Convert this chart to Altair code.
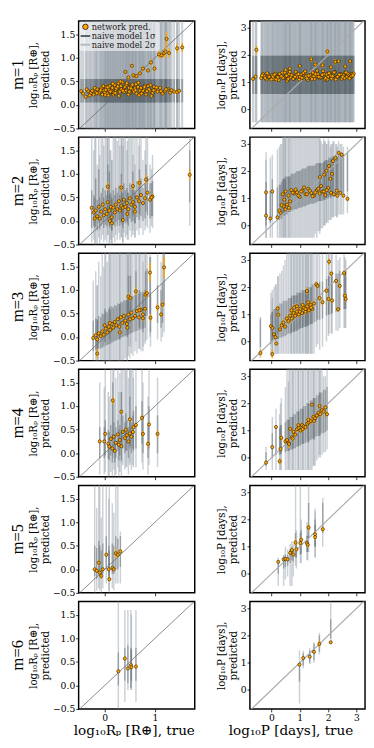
import altair as alt
import pandas as pd

# ---------------- data ----------------
# m = 1, planet radius
m1_r_true = [-0.47,-0.38,-0.33,-0.28,-0.25,-0.22,-0.18,-0.15,-0.12,-0.10,
             -0.07,-0.05,-0.02,0.00,0.03,0.05,0.08,0.10,0.12,0.15,
             0.17,0.20,0.22,0.25,0.27,0.30,0.32,0.35,0.37,0.40,
             0.42,0.45,0.48,0.50,0.53,0.56,0.60,0.63,0.66,0.70,
             0.74,0.78,0.82,0.86,0.90,0.95,1.00,1.05,1.10,1.15,
             1.20,1.25,1.30,1.38,1.44,
             0.02,0.07,0.13,0.18,0.23,0.28,0.33,0.38,0.43,0.47,
             0.52,0.58,0.62,0.68,0.72,0.76,0.80,0.88,0.93,0.98,
             -0.43,-0.36,-0.30,-0.20,-0.16,-0.08,-0.03,0.01,0.06,0.11,
             0.16,0.21,0.26,0.31,0.36,0.44,0.49,0.55,0.61,0.67,
             0.73,0.79,0.84,0.91,0.97,1.03,1.12,1.22,1.33,1.48,
             0.41,0.54,0.57,0.70,0.76,0.86,0.92,0.99,1.08,1.13,
             1.18,1.21,1.23,1.28,1.44,0.47,0.63,1.54]
m1_r_pred = [0.29,0.17,0.29,0.25,0.30,0.22,0.27,0.33,0.24,0.28,
             0.35,0.22,0.30,0.26,0.38,0.24,0.32,0.40,0.27,0.36,
             0.22,0.42,0.30,0.34,0.45,0.28,0.40,0.48,0.33,0.38,
             0.30,0.44,0.36,0.26,0.40,0.32,0.35,0.24,0.38,0.30,
             0.27,0.34,0.22,0.40,0.30,0.25,0.33,0.28,0.36,0.24,
             0.30,0.34,0.26,0.28,0.27,
             0.32,0.20,0.30,0.26,0.35,0.19,0.33,0.27,0.42,0.22,
             0.35,0.28,0.44,0.20,0.36,0.30,0.41,0.33,0.19,0.38,
             0.24,0.33,0.20,0.36,0.25,0.31,0.40,0.21,0.37,0.28,
             0.45,0.25,0.39,0.50,0.30,0.46,0.28,0.43,0.31,0.47,
             0.24,0.38,0.29,0.42,0.31,0.37,0.29,0.33,0.31,0.30,
             0.70,0.83,0.63,0.67,0.77,0.73,0.90,0.77,1.07,1.05,
             1.10,1.13,1.40,1.10,1.20,0.58,0.61,1.22]
m1_r_err = [0.04,0.05,0.04,0.04,0.05,0.04,0.04,0.05,0.04,0.04,
            0.05,0.04,0.04,0.04,0.05,0.04,0.04,0.05,0.04,0.04,
            0.04,0.05,0.04,0.04,0.05,0.04,0.05,0.05,0.04,0.04,
            0.04,0.05,0.04,0.04,0.05,0.04,0.04,0.04,0.05,0.04,
            0.04,0.05,0.04,0.05,0.04,0.04,0.05,0.04,0.05,0.04,
            0.05,0.05,0.04,0.05,0.05,
            0.04,0.04,0.04,0.04,0.04,0.04,0.04,0.04,0.04,0.04,
            0.04,0.04,0.04,0.04,0.04,0.04,0.04,0.04,0.04,0.04,
            0.04,0.04,0.04,0.04,0.04,0.04,0.04,0.04,0.04,0.04,
            0.04,0.04,0.04,0.04,0.04,0.04,0.04,0.04,0.04,0.04,
            0.04,0.04,0.04,0.04,0.04,0.04,0.04,0.04,0.04,0.04,
            0.05,0.06,0.05,0.05,0.06,0.05,0.07,0.06,0.08,0.07,
            0.08,0.12,0.15,0.10,0.10,0.05,0.05,0.10]
m1_r_naive = [0.05, 0.55, -0.60, 2.00]   # 1σ lo, 1σ hi, 2σ lo, 2σ hi (same for all)

# m = 1, orbital period
m1_p_true = [-0.65,-0.56,-0.36,-0.30,-0.25,-0.18,-0.12,-0.05,0.02,0.08,
             0.14,0.20,0.26,0.32,0.38,0.44,0.50,0.56,0.62,0.68,
             0.74,0.80,0.86,0.92,0.98,1.04,1.10,1.16,1.22,1.28,
             1.34,1.40,1.46,1.52,1.58,1.64,1.70,1.76,1.82,1.88,
             1.94,2.00,2.06,2.12,2.18,2.24,2.30,2.36,2.42,2.48,
             2.54,2.60,2.66,2.72,2.78,2.84,2.90,
             0.05,0.17,0.29,0.41,0.53,0.65,0.77,0.89,1.01,1.13,
             1.25,1.37,1.49,1.61,1.73,1.85,1.97,2.09,2.21,2.33,
             2.45,2.57,2.69,2.81,
             -0.33,-0.22,-0.15,-0.08,0.00,0.11,0.23,0.35,0.47,0.59,
             0.71,0.83,0.95,1.07,1.19,1.31,1.43,1.55,1.67,1.79,
             1.91,2.03,2.15,2.27,2.39,2.51,2.63,2.75,2.87,0.50,
             -0.53,1.40,1.97,2.37,2.77,1.00,1.55,2.10,2.25,0.65,2.60,1.80]
m1_p_pred = [1.12,1.21,1.15,1.30,1.22,1.10,1.28,1.18,1.25,1.12,
             1.32,1.20,1.08,1.26,1.35,1.15,1.22,1.05,1.30,1.18,
             1.25,1.12,1.38,1.20,1.10,1.28,1.16,1.33,1.22,1.08,
             1.26,1.18,1.35,1.12,1.24,1.30,1.15,1.22,1.40,1.10,
             1.28,1.20,1.33,1.14,1.25,1.38,1.18,1.22,1.30,1.12,
             1.26,1.35,1.20,1.28,1.16,1.30,1.32,
             1.20,1.10,1.30,1.16,1.24,1.38,1.12,1.27,1.20,1.34,
             1.14,1.26,1.22,1.42,1.18,1.30,1.10,1.24,1.36,1.20,
             1.28,1.15,1.32,1.22,
             1.25,1.15,1.33,1.20,1.10,1.28,1.18,1.22,1.36,1.12,
             1.26,1.20,1.30,1.16,1.40,1.24,1.12,1.30,1.20,1.27,
             1.15,1.33,1.22,1.10,1.28,1.20,1.36,1.14,1.25,1.45,
             2.19,1.84,2.13,1.77,1.77,1.60,1.65,1.55,1.75,1.50,1.58,1.62]
m1_p_err = [0.06,0.07,0.06,0.08,0.06,0.07,0.06,0.08,0.06,0.07,
            0.08,0.06,0.07,0.06,0.08,0.06,0.07,0.06,0.08,0.06,
            0.07,0.06,0.08,0.06,0.07,0.06,0.08,0.06,0.07,0.06,
            0.08,0.06,0.07,0.06,0.08,0.06,0.07,0.06,0.08,0.06,
            0.07,0.06,0.08,0.06,0.07,0.06,0.08,0.06,0.07,0.06,
            0.08,0.06,0.07,0.06,0.08,0.06,0.07,
            0.06,0.07,0.06,0.08,0.06,0.07,0.06,0.08,0.06,0.07,
            0.06,0.08,0.06,0.07,0.06,0.08,0.06,0.07,0.06,0.08,
            0.06,0.07,0.06,0.08,
            0.07,0.07,0.07,0.07,0.07,0.07,0.07,0.07,0.07,0.07,
            0.07,0.07,0.07,0.07,0.07,0.07,0.07,0.07,0.07,0.07,
            0.07,0.07,0.07,0.07,0.07,0.07,0.07,0.07,0.07,0.07,
            0.15,0.10,0.10,0.08,0.08,0.08,0.10,0.08,0.10,0.08,0.08,0.10]
m1_p_naive = [0.57, 1.97, -0.47, 3.40]

# m = 2, radius
m2_r_true = [-0.26,-0.22,-0.18,-0.15,-0.12,-0.10,-0.07,-0.04,-0.02,0.01,
             0.04,0.06,0.09,0.12,0.14,0.17,0.20,0.22,0.25,0.28,
             0.30,0.33,0.36,0.38,0.41,0.44,0.47,0.50,0.53,0.56,
             0.60,0.64,0.68,0.72,0.76,0.80,0.85,0.90,0.95,
             0.06,0.33,0.56,0.69,0.82,0.93,0.36,0.14,0.60,1.69,-0.20,0.10,0.45]
m2_r_pred = [0.28,0.18,0.22,0.10,0.30,0.05,0.20,0.35,0.12,0.25,
             0.15,0.40,0.22,0.30,0.08,0.28,0.18,0.35,0.25,0.42,
             0.22,0.32,0.28,0.45,0.30,0.38,0.25,0.48,0.35,0.40,
             0.30,0.50,0.42,0.55,0.38,0.48,0.60,0.45,0.52,
             0.73,0.71,0.74,0.81,0.88,0.50,0.02,-0.05,0.20,0.98,0.05,0.00,0.15]
m2_r_err = [0.04,0.05,0.04,0.05,0.04,0.05,0.04,0.05,0.04,0.05,
            0.04,0.05,0.04,0.05,0.04,0.05,0.04,0.05,0.04,0.05,
            0.04,0.05,0.04,0.05,0.04,0.05,0.04,0.05,0.04,0.05,
            0.04,0.05,0.04,0.05,0.04,0.05,0.06,0.05,0.06,
            0.09,0.08,0.08,0.08,0.10,0.06,0.05,0.05,0.06,0.12,0.05,0.05,0.05]
m2_r_n1lo = [-0.15,-0.10,-0.12,-0.20,-0.05,-0.18,-0.10,-0.02,-0.15,-0.08,
             -0.12,0.00,-0.10,-0.05,-0.20,-0.08,-0.12,-0.02,-0.10,0.02,
             -0.10,-0.05,-0.08,0.05,-0.05,0.00,-0.10,0.05,-0.02,0.00,
             -0.05,0.08,0.02,0.10,0.00,0.05,0.12,0.05,0.10,
             0.05,0.00,0.10,0.15,0.20,0.10,-0.15,-0.20,-0.05,0.40,-0.15,-0.15,-0.05]
m2_r_n1hi = [0.65,0.55,0.90,0.45,1.10,0.50,0.60,0.70,0.50,0.65,
             0.55,0.75,1.05,0.60,0.50,0.65,0.55,0.70,0.60,0.75,
             0.55,0.65,0.60,0.80,0.65,0.70,0.60,0.80,0.70,0.75,
             0.65,0.85,0.75,0.90,0.70,0.80,0.95,0.80,0.85,
             1.20,1.00,1.05,1.10,1.20,0.80,0.50,0.45,0.60,1.50,0.50,0.55,0.60]
m2_r_n2lo = [-0.45,-0.40,-0.50,-0.50,-0.35,-0.50,-0.40,-0.30,-0.45,-0.40,
             -0.45,-0.30,-0.50,-0.40,-0.50,-0.35,-0.45,-0.30,-0.40,-0.25,
             -0.40,-0.35,-0.45,-0.25,-0.35,-0.30,-0.40,-0.20,-0.35,-0.30,
             -0.35,-0.20,-0.30,-0.15,-0.30,-0.20,-0.15,-0.25,-0.15,
             -0.30,-0.35,-0.20,-0.15,-0.10,-0.10,-0.50,-0.50,-0.35,-0.10,-0.50,-0.50,-0.40]
m2_r_n2hi = [1.80,1.50,1.80,1.20,1.80,1.40,1.80,1.80,1.60,1.80,
             1.80,1.80,1.80,1.50,1.30,1.80,1.80,1.80,1.70,1.80,
             1.60,1.80,1.80,1.80,1.80,1.50,1.80,1.80,1.80,1.40,
             1.80,1.80,1.60,1.80,1.30,1.50,1.80,1.20,1.40,
             1.80,1.80,1.80,1.80,1.80,1.10,1.60,1.30,1.20,2.00,1.80,1.50,1.70]

# m = 2, period
m2_p_true = [-0.19,0.03,-0.19,-0.04,0.21,0.32,0.43,0.55,0.66,0.49,
             0.40,0.50,0.60,0.70,0.80,0.90,1.00,1.10,1.20,1.30,
             1.40,1.50,1.60,1.70,1.80,1.90,2.00,2.10,2.20,2.30,
             0.45,0.62,0.75,0.85,0.95,1.05,1.15,1.25,1.35,1.45,
             1.55,1.65,1.75,1.85,1.95,
             1.71,1.86,1.94,2.03,2.08,2.14,2.17,2.26,2.37,2.48,
             2.32,2.43,2.54,2.68,0.28,0.36]
m2_p_pred = [1.22,1.25,0.36,0.26,0.30,0.47,0.71,0.77,0.89,0.59,
             1.15,1.25,1.10,1.30,1.18,1.22,1.05,1.28,1.15,1.35,
             1.20,1.10,1.30,1.18,1.25,1.12,1.38,1.20,1.15,1.28,
             0.95,0.65,1.20,1.32,1.10,1.25,1.40,1.15,1.28,1.08,
             1.22,1.35,1.45,1.25,1.30,
             1.78,1.87,2.01,2.19,1.72,1.90,2.37,2.49,2.67,2.60,
             1.10,1.20,1.10,0.98,0.55,0.75]
m2_p_err = [0.06,0.06,0.06,0.06,0.07,0.08,0.08,0.08,0.10,0.08,
            0.07,0.08,0.07,0.08,0.07,0.08,0.07,0.08,0.07,0.08,
            0.07,0.08,0.07,0.08,0.07,0.08,0.07,0.08,0.07,0.08,
            0.10,0.12,0.07,0.08,0.07,0.08,0.07,0.08,0.07,0.08,
            0.07,0.08,0.07,0.08,0.07,
            0.08,0.08,0.08,0.10,0.08,0.08,0.08,0.08,0.08,0.08,
            0.08,0.08,0.08,0.10,0.08,0.08]
m2_p_n1lo = [0.20,0.30,0.00,0.10,0.20,0.30,0.40,0.40,0.50,0.40,
             0.45,0.50,0.50,0.55,0.60,0.60,0.65,0.70,0.70,0.75,
             0.80,0.80,0.85,0.90,0.90,0.95,1.00,1.00,1.05,1.10,
             0.35,0.50,0.55,0.60,0.65,0.65,0.70,0.75,0.80,0.80,
             0.85,0.90,0.90,0.95,1.00,
             0.90,0.95,1.00,1.05,1.05,1.10,1.10,1.15,1.20,1.20,
             1.10,1.15,1.20,1.25,0.20,0.25]
m2_p_n1hi = [1.60,1.70,1.20,1.30,1.40,1.50,1.70,1.80,1.80,1.70,
             1.70,1.80,1.80,1.90,1.90,2.00,2.00,2.10,2.10,2.20,
             2.20,2.20,2.30,2.30,2.30,2.40,2.40,2.50,2.50,2.50,
             1.75,1.80,1.90,1.95,2.00,2.05,2.10,2.15,2.20,2.20,
             2.25,2.30,2.30,2.35,2.40,
             2.30,2.35,2.40,2.50,2.45,2.50,2.55,2.60,2.65,2.70,
             2.50,2.60,2.60,2.70,1.50,1.60]
m2_p_n2lo = [-0.45,-0.45,-0.45,-0.45,-0.45,-0.45,-0.45,-0.45,-0.45,-0.45,
             -0.45,-0.45,-0.45,-0.45,-0.45,-0.45,-0.45,-0.45,-0.45,-0.45,
             -0.45,-0.45,-0.45,-0.30,-0.10,0.00,0.10,0.20,0.30,0.30,
             -0.45,-0.45,-0.45,-0.45,-0.45,-0.45,-0.45,-0.45,-0.45,-0.45,
             -0.30,-0.20,-0.10,0.00,0.10,
             -0.20,0.00,0.10,0.20,0.20,0.30,0.30,0.35,0.40,0.40,
             0.30,0.40,0.40,0.45,-0.45,-0.45]
m2_p_n2hi = [2.70,2.60,2.40,2.50,2.80,3.00,3.40,3.40,3.40,3.40,
             3.40,3.40,3.40,3.40,3.40,3.40,3.40,3.40,3.40,3.40,
             3.40,3.40,3.40,3.40,3.00,3.10,3.20,3.00,3.10,3.00,
             3.40,3.40,3.40,3.40,3.40,3.40,3.40,3.40,3.40,3.40,
             3.40,3.40,3.10,3.20,3.00,
             3.20,3.10,3.00,3.10,2.90,3.00,3.10,3.00,3.10,3.00,
             2.90,3.00,2.90,2.90,2.90,3.00]

# m = 3, radius
m3_r_true = [-0.23,-0.18,-0.15,-0.12,-0.08,-0.05,-0.02,0.02,0.05,0.08,
             0.11,0.14,0.17,0.20,0.23,0.26,0.29,0.32,0.35,0.38,
             0.41,0.44,0.47,0.50,0.53,0.56,0.60,0.64,0.68,0.72,
             0.76,0.80,
             0.47,0.51,0.62,0.81,0.84,0.90,1.18,0.91,1.05,1.12,1.15,0.76,0.69,-0.15,0.00,0.10,0.30,0.45]
m3_r_pred = [-0.02,0.04,-0.05,0.08,0.02,0.12,0.05,0.18,0.10,0.22,
             0.15,0.28,0.20,0.32,0.25,0.38,0.22,0.42,0.30,0.45,
             0.35,0.28,0.48,0.38,0.52,0.40,0.45,0.55,0.42,0.58,
             0.48,0.60,
             0.86,0.83,0.97,0.90,0.93,1.37,1.48,0.41,0.63,0.48,0.69,0.40,0.57,-0.35,0.25,0.30,0.10,0.20]
m3_r_err = [0.04,0.05,0.04,0.05,0.04,0.05,0.04,0.05,0.04,0.05,
            0.04,0.05,0.04,0.05,0.04,0.05,0.04,0.05,0.04,0.05,
            0.04,0.05,0.04,0.05,0.04,0.05,0.04,0.05,0.04,0.05,
            0.04,0.05,
            0.07,0.06,0.08,0.06,0.07,0.20,0.22,0.08,0.08,0.06,0.08,0.06,0.07,0.10,0.04,0.05,0.05,0.05]
m3_r_n1lo = [-0.30,-0.28,-0.27,-0.25,-0.24,-0.22,-0.20,-0.18,-0.17,-0.15,
             -0.14,-0.12,-0.10,-0.08,-0.07,-0.05,-0.04,-0.02,0.00,0.01,
             0.02,0.04,0.05,0.07,0.08,0.10,0.12,0.13,0.15,0.16,
             0.18,0.20,
             0.30,0.30,0.40,0.45,0.45,0.50,0.70,0.10,0.30,0.20,0.30,0.10,0.20,-0.30,-0.10,-0.05,-0.05,0.00]
m3_r_n1hi = [0.35,0.40,0.38,0.45,0.42,0.50,0.48,0.55,0.52,0.60,
             0.58,0.65,0.62,0.68,0.66,0.72,0.70,0.75,0.74,0.78,
             0.77,0.80,0.82,0.84,0.85,0.88,0.90,0.92,0.93,0.95,
             0.97,1.00,
             1.30,1.30,1.40,1.40,1.45,1.70,1.80,0.90,1.10,1.00,1.15,0.90,1.00,0.35,0.60,0.65,0.70,0.80]
m3_r_n2lo = [-0.50,-0.50,-0.50,-0.50,-0.50,-0.50,-0.50,-0.50,-0.50,-0.50,
             -0.50,-0.50,-0.50,-0.50,-0.50,-0.50,-0.50,-0.50,-0.50,-0.50,
             -0.45,-0.50,-0.40,-0.45,-0.35,-0.40,-0.30,-0.35,-0.25,-0.30,
             -0.20,-0.15,
             -0.20,-0.20,-0.10,-0.10,-0.05,0.00,0.10,-0.20,-0.05,-0.10,0.00,-0.30,-0.25,-0.50,-0.50,-0.50,-0.50,-0.50]
m3_r_n2hi = [1.20,1.40,1.10,1.60,1.30,1.80,1.50,1.80,1.60,1.80,
             1.80,1.80,1.80,1.80,1.80,1.80,1.80,1.80,1.80,1.80,
             1.80,1.80,1.80,1.80,1.80,1.80,1.80,1.80,1.80,1.80,
             1.80,1.80,
             1.80,1.80,1.80,1.80,1.80,1.80,1.80,1.70,1.80,1.60,1.80,1.60,1.80,1.10,1.80,1.80,1.80,1.80]

# m = 3, period
m3_p_true = [-0.39,0.03,-0.02,0.03,0.09,0.14,0.17,0.22,0.24,0.30,
             0.36,0.42,0.48,0.54,0.60,0.66,0.72,0.78,0.84,0.90,
             0.96,1.02,1.08,1.14,1.20,1.26,1.32,1.38,1.44,1.50,
             0.70,0.80,0.90,1.00,1.10,1.20,1.30,1.40,
             1.58,1.63,2.03,2.11,1.94,2.01,2.14,2.28,2.41,2.56,2.35,2.59,2.62,1.25,1.70,1.80]
m3_p_pred = [-0.42,-0.46,0.57,0.50,0.27,0.16,-0.07,1.22,0.99,0.45,
             0.60,0.70,0.55,0.85,0.75,0.95,0.85,1.05,0.95,1.10,
             1.00,1.20,1.05,1.25,1.10,1.30,1.15,1.35,1.20,1.40,
             1.15,1.25,1.30,1.10,1.35,1.20,1.45,1.25,
             2.11,2.05,2.94,2.50,1.87,1.57,1.51,2.23,2.05,2.52,1.19,1.69,1.57,1.86,1.60,1.45]
m3_p_err = [0.12,0.15,0.08,0.08,0.08,0.08,0.08,0.10,0.10,0.08,
            0.10,0.12,0.08,0.12,0.10,0.12,0.10,0.12,0.10,0.12,
            0.10,0.12,0.10,0.12,0.10,0.12,0.10,0.12,0.10,0.12,
            0.10,0.12,0.10,0.12,0.10,0.12,0.10,0.12,
            0.10,0.10,0.12,0.10,0.10,0.10,0.10,0.10,0.10,0.10,0.10,0.10,0.10,0.12,0.10,0.10]
m3_p_n1lo = [-0.20,0.00,-0.10,0.00,0.05,0.05,0.10,0.10,0.10,0.15,
             0.15,0.20,0.20,0.25,0.30,0.30,0.35,0.35,0.40,0.40,
             0.45,0.50,0.50,0.55,0.55,0.60,0.60,0.65,0.65,0.70,
             0.30,0.35,0.40,0.45,0.50,0.55,0.60,0.65,
             0.75,0.80,1.00,1.00,0.95,1.00,1.05,1.10,1.15,1.20,1.10,1.20,1.20,0.55,0.80,0.85]
m3_p_n1hi = [0.90,1.10,1.00,1.10,1.20,1.20,1.20,1.30,1.30,1.40,
             1.40,1.50,1.50,1.50,1.60,1.60,1.70,1.70,1.70,1.80,
             1.80,1.80,1.90,1.90,1.90,2.00,2.00,2.00,2.10,2.10,
             1.60,1.70,1.70,1.80,1.80,1.90,1.90,2.00,
             2.10,2.10,2.40,2.40,2.30,2.40,2.40,2.50,2.60,2.60,2.50,2.60,2.60,1.90,2.20,2.20]
m3_p_n2lo = [-0.60,-0.60,-0.50,-0.50,-0.45,-0.45,-0.45,-0.45,-0.45,-0.45,
             -0.45,-0.45,-0.45,-0.45,-0.45,-0.45,-0.45,-0.45,-0.45,-0.45,
             -0.45,-0.45,-0.45,-0.45,-0.45,-0.45,-0.45,-0.45,-0.45,-0.45,
             -0.45,-0.45,-0.45,-0.45,-0.45,-0.45,-0.45,-0.45,
             -0.20,-0.10,0.30,0.30,0.00,0.20,0.30,0.40,0.50,0.50,0.40,0.50,0.50,-0.45,-0.30,-0.20]
m3_p_n2hi = [0.80,1.60,1.80,1.90,2.00,2.10,2.10,2.40,2.40,2.50,
             2.60,2.80,3.00,3.40,3.40,3.40,3.40,3.40,3.40,3.40,
             3.40,3.40,3.40,3.40,3.40,3.40,3.40,3.40,3.40,3.40,
             3.40,3.40,3.40,3.40,3.40,3.40,3.40,3.40,
             3.40,3.40,3.40,3.40,3.40,3.40,3.20,3.20,3.10,3.20,3.00,3.10,3.00,3.40,3.40,3.40]

# m = 4, radius
m4_r_true = [-0.10,0.01,-0.01,0.07,0.09,0.12,0.15,0.18,0.22,0.26,
             0.30,0.33,0.36,0.40,0.44,0.47,0.50,0.53,0.56,
             0.16,0.33,0.50,0.57,0.62,0.74,0.76,0.86,0.88,1.05,0.20,0.28,0.42]
m4_r_pred = [0.25,0.41,0.25,0.20,0.14,0.30,0.10,0.35,0.22,0.40,
             0.28,0.15,0.45,0.32,0.38,0.25,0.42,0.35,0.45,
             1.12,0.88,0.72,0.55,0.60,0.75,0.41,0.20,0.61,0.41,0.05,0.18,0.50]
m4_r_err = [0.04,0.04,0.04,0.04,0.04,0.04,0.04,0.04,0.04,0.04,
            0.04,0.04,0.04,0.04,0.04,0.04,0.04,0.04,0.04,
            0.08,0.05,0.05,0.05,0.05,0.06,0.06,0.07,0.05,0.08,0.04,0.04,0.05]
m4_r_n1lo = [-0.10,-0.05,-0.10,-0.12,-0.15,-0.05,-0.20,0.00,-0.10,0.05,
             -0.05,-0.15,0.10,0.00,0.05,-0.10,0.10,0.00,0.10,
             0.30,0.20,0.15,0.05,0.10,0.20,0.00,-0.10,0.10,0.00,-0.20,-0.15,0.05]
m4_r_n1hi = [0.55,0.70,0.55,0.50,0.45,0.60,0.40,0.65,0.55,0.70,
             0.60,0.45,0.80,0.65,0.70,0.55,0.75,0.65,0.80,
             1.50,1.30,1.20,0.90,1.00,1.10,0.80,0.60,1.00,0.80,0.40,0.50,0.85]
m4_r_n2lo = [-0.45,-0.40,-0.45,-0.50,-0.50,-0.40,-0.50,-0.35,-0.45,-0.30,
             -0.40,-0.50,-0.25,-0.35,-0.30,-0.45,-0.25,-0.35,-0.25,
             -0.10,-0.20,-0.20,-0.30,-0.30,-0.20,-0.35,-0.45,-0.25,-0.30,-0.50,-0.50,-0.30]
m4_r_n2hi = [1.50,1.80,1.40,1.30,1.20,1.80,1.10,1.80,1.60,1.80,
             1.70,1.30,1.80,1.80,1.80,1.60,1.80,1.80,1.80,
             1.80,1.80,1.80,1.60,1.80,1.80,1.50,1.20,1.80,1.60,1.10,1.30,1.80]

# m = 4, period
m4_p_true = [-0.19,0.03,0.16,0.29,0.32,0.35,0.49,0.55,0.60,0.66,
             0.72,0.78,0.84,0.90,0.96,1.02,1.08,1.14,1.20,1.26,
             1.32,1.38,1.43,1.48,1.54,1.60,1.66,1.72,1.78,1.84,
             1.90,1.96,0.62,0.75,0.95,1.10,1.30,1.50,1.70]
m4_p_pred = [-0.18,0.39,1.13,-0.13,0.32,0.73,0.60,0.65,0.55,1.06,
             0.75,0.95,0.85,1.05,1.10,1.00,1.20,1.15,1.12,1.25,
             1.30,1.35,1.95,1.50,1.45,1.55,1.65,1.60,1.75,1.70,
             1.85,1.60,0.50,0.70,1.20,1.05,1.40,1.35,1.90]
m4_p_err = [0.08,0.06,0.06,0.12,0.08,0.10,0.08,0.08,0.08,0.10,
            0.08,0.10,0.08,0.10,0.08,0.10,0.08,0.10,0.08,0.10,
            0.08,0.10,0.08,0.10,0.08,0.10,0.08,0.10,0.08,0.10,
            0.08,0.10,0.15,0.10,0.10,0.10,0.10,0.10,0.10]
m4_p_n1lo = [-0.30,0.00,0.10,0.10,0.15,0.15,0.20,0.25,0.25,0.30,
             0.30,0.35,0.35,0.40,0.45,0.45,0.50,0.50,0.55,0.60,
             0.60,0.65,0.70,0.70,0.75,0.80,0.80,0.85,0.90,0.90,
             0.95,1.00,0.25,0.30,0.40,0.50,0.55,0.65,0.80]
m4_p_n1hi = [0.20,0.90,1.10,1.10,1.20,1.20,1.30,1.40,1.40,1.50,
             1.50,1.60,1.60,1.70,1.70,1.80,1.80,1.90,1.90,2.00,
             2.00,2.10,2.10,2.20,2.20,2.30,2.30,2.40,2.40,2.50,
             2.50,2.60,1.40,1.50,1.70,1.80,2.00,2.20,2.40]
m4_p_n2lo = [-0.45,-0.45,-0.45,-0.45,-0.45,-0.45,-0.45,-0.45,-0.45,-0.45,
             -0.45,-0.45,-0.45,-0.45,-0.45,-0.45,-0.45,-0.45,-0.45,-0.45,
             -0.45,-0.45,-0.45,-0.30,-0.30,-0.10,0.00,0.00,0.10,0.20,
             0.20,0.30,-0.45,-0.45,-0.45,-0.45,-0.45,-0.30,0.10]
m4_p_n2hi = [0.40,1.50,1.80,1.60,2.00,2.20,2.60,3.40,2.80,3.40,
             3.40,3.40,3.40,3.40,3.40,3.40,3.40,3.40,3.40,3.40,
             3.40,3.40,3.40,3.40,3.40,3.40,3.40,3.40,3.40,3.00,
             3.00,3.40,3.40,3.40,3.40,3.40,3.40,3.40,3.40]

# m = 5, radius
m5_r_true = [-0.20,-0.16,-0.10,-0.07,-0.04,-0.12,0.03,0.08,0.09,0.15,0.18,0.22,0.26,0.31]
m5_r_pred = [0.00,-0.03,-0.07,-0.14,0.00,0.14,0.31,0.00,-0.21,0.03,0.00,0.34,0.31,0.38]
m5_r_err = [0.04,0.04,0.05,0.05,0.04,0.06,0.05,0.04,0.05,0.04,0.04,0.10,0.06,0.05]
m5_r_n1lo = [-0.15,-0.20,-0.15,-0.20,-0.10,-0.10,0.00,-0.15,-0.25,-0.10,-0.10,0.00,0.00,0.05]
m5_r_n1hi = [0.50,0.45,0.50,0.40,0.55,0.60,0.70,0.50,0.40,0.55,0.50,0.70,0.65,0.70]
m5_r_n2lo = [-0.50,-0.45,-0.45,-0.50,-0.40,-0.40,-0.30,-0.45,-0.50,-0.40,-0.45,-0.30,-0.30,-0.30]
m5_r_n2hi = [1.80,1.30,1.80,1.10,1.80,1.80,1.80,1.50,1.80,1.40,1.20,1.80,1.80,0.80]

# m = 5, period
m5_p_true = [0.24,0.43,0.49,0.57,0.66,0.72,0.77,0.85,0.88,1.02,1.05,1.25,1.28,1.31,1.54,1.54,1.81]
m5_p_pred = [0.44,0.53,0.55,0.53,0.77,0.87,0.71,1.15,0.90,1.13,1.25,1.13,1.07,1.70,1.46,1.35,1.64]
m5_p_err = [0.05,0.05,0.06,0.05,0.08,0.10,0.08,0.12,0.08,0.10,0.10,0.08,0.10,0.12,0.10,0.10,0.10]
m5_p_n1lo = [0.00,0.20,0.25,0.30,0.40,0.50,0.45,0.60,0.60,0.70,0.75,0.80,0.80,1.30,1.00,1.00,1.50]
m5_p_n1hi = [0.50,0.65,0.70,0.70,0.90,1.00,0.90,1.50,1.10,1.50,1.60,1.40,1.40,2.60,2.00,1.80,2.60]
m5_p_n2lo = [-0.45,-0.45,-0.20,-0.10,-0.45,-0.45,-0.10,0.30,0.20,0.40,0.40,0.50,0.50,0.80,0.60,0.60,1.00]
m5_p_n2hi = [0.60,0.70,1.00,0.90,1.10,1.20,1.10,3.40,1.60,3.40,2.00,1.90,1.80,3.40,2.40,2.30,2.80]

# m = 6, radius
m6_r_true = [0.27,0.40,0.46,0.52,0.53,0.62]
m6_r_pred = [0.30,0.57,0.36,0.43,0.39,0.40]
m6_r_err = [0.04,0.05,0.04,0.05,0.04,0.05]
m6_r_n1lo = [0.00,0.10,0.05,-0.05,0.10,0.10]
m6_r_n1hi = [0.70,0.80,0.85,0.80,0.75,0.80]
m6_r_n2lo = [-0.55,-0.35,-0.10,-0.10,-0.10,-0.35]
m6_r_n2hi = [1.80,1.60,1.60,1.60,1.50,1.60]

# m = 6, period
m6_p_true = [0.99,1.12,1.35,1.50,1.69,2.09]
m6_p_pred = [0.93,1.17,1.22,1.40,1.69,1.75]
m6_p_err = [0.05,0.06,0.05,0.08,0.12,0.06]
m6_p_n1lo = [0.30,0.90,1.00,1.10,1.40,1.90]
m6_p_n1hi = [1.00,1.35,1.45,1.70,2.00,2.60]
m6_p_n2lo = [-0.50,0.80,0.95,1.00,1.30,1.70]
m6_p_n2hi = [1.45,1.45,1.55,1.75,2.10,3.40]

# axis settings
R_DOM_X = [-0.52, 1.79]
R_DOM_Y = [-0.5, 1.78]
P_DOM_X = [-0.76, 3.3]
P_DOM_Y = [-0.7, 3.25]
R_TICKS_Y = [-0.5, 0.0, 0.5, 1.0, 1.5]
R_TICKS_X = [0, 1]
P_TICKS = [0, 1, 2, 3]
DIAG = [-2.0, 5.0]

LEGEND_LABELS = ["network pred.", "naive model 1σ", "naive model 2σ"]

# ---------------- styling ----------------
SERIF = "DejaVu Serif"
ROWFONT = "Liberation Serif"
ORANGE = "#ffa500"
C1 = "#576169"
C2 = "#8e98a3"
W_L, W_R, H = 120, 119, 111


def make_panel(kind, m, xt, yp, ye, n1lo, n1hi, n2lo, n2hi, legend=False):
    df = pd.DataFrame({
        "xt": xt, "yp": yp,
        "elo": [a - b for a, b in zip(yp, ye)],
        "ehi": [a + b for a, b in zip(yp, ye)],
        "n1lo": n1lo, "n1hi": n1hi, "n2lo": n2lo, "n2hi": n2hi,
    })
    bottom = (m == 6)
    bw = 2.0 if m == 1 else 1.5
    if kind == "R":
        xdom, ydom, ytk, xtk, yfmt = R_DOM_X, R_DOM_Y, R_TICKS_Y, R_TICKS_X, ".1f"
        ytitle = ["log₁₀Rₚ [R⊕],", "predicted"]
        xtitle = "log₁₀Rₚ [R⊕], true"
        width = W_L
        dcol, dw = "#6a6a6a", 0.8
        tx = 57
    else:
        xdom, ydom, ytk, xtk, yfmt = P_DOM_X, P_DOM_Y, P_TICKS, P_TICKS, "d"
        ytitle = ["log₁₀P [days],", "predicted"]
        xtitle = "log₁₀P [days], true"
        width = W_R
        dcol, dw = "#ababab", 1.2
        tx = 42

    xax_kw = dict(values=xtk, labels=bottom, format="d")
    if bottom:
        xax_kw.update(title=xtitle, titleX=tx, titleFontSize=14, titlePadding=2)
    else:
        xax_kw["title"] = None
    xax = alt.Axis(**xax_kw)
    yax = alt.Axis(values=ytk, format=yfmt, title=ytitle)
    xs = alt.Scale(domain=xdom, nice=False, zero=False)
    ys = alt.Scale(domain=ydom, nice=False, zero=False)

    def X(f):
        return alt.X(f + ":Q", scale=xs, axis=xax)

    def Y(f):
        return alt.Y(f + ":Q", scale=ys, axis=yax)

    base = alt.Chart(df)
    b2 = base.mark_rule(clip=True, color=C2, strokeWidth=bw, opacity=0.45).encode(
        x=X("xt"), y=Y("n2lo"), y2="n2hi:Q")
    b1 = base.mark_rule(clip=True, color=C1, strokeWidth=bw, opacity=0.45).encode(
        x=X("xt"), y=Y("n1lo"), y2="n1hi:Q")
    diag = alt.Chart(pd.DataFrame({"d": DIAG})).mark_line(
        clip=True, color=dcol, strokeWidth=dw).encode(x=X("d"), y=Y("d"))
    err = base.mark_rule(clip=True, color=ORANGE, strokeWidth=1.8, opacity=0.8).encode(
        x=X("xt"), y=Y("elo"), y2="ehi:Q")
    pts = base.mark_circle(clip=True, color=ORANGE, opacity=1, stroke="black",
                           strokeWidth=0.5, size=11).encode(x=X("xt"), y=Y("yp"))
    layers = [b2, b1, diag, err, pts]

    if legend:
        one = alt.Chart(pd.DataFrame({"k": [0]}))
        layers.append(one.mark_rect(fill="white", opacity=0.55, cornerRadius=2).encode(
            x=alt.value(1), x2=alt.value(84), y=alt.value(1), y2=alt.value(31)))
        layers.append(one.mark_point(filled=True, fill=ORANGE, stroke="black", strokeWidth=0.7,
                                     size=32, opacity=1).encode(x=alt.value(7), y=alt.value(6)))
        layers.append(one.mark_rule(color=C1, strokeWidth=2).encode(
            x=alt.value(2), x2=alt.value(12), y=alt.value(15.5)))
        layers.append(one.mark_rule(color="#b3bac1", strokeWidth=2).encode(
            x=alt.value(2), x2=alt.value(12), y=alt.value(24.5)))
        for i, lab in enumerate(LEGEND_LABELS):
            layers.append(one.mark_text(align="left", baseline="middle", font=SERIF,
                                        fontSize=8.5, color="#222").encode(
                x=alt.value(13.5), y=alt.value(6.5 + 9 * i), text=alt.value(lab)))

    ch = alt.layer(*layers).properties(width=width, height=H)
    if kind == "R":
        ch = ch.properties(title=alt.TitleParams(
            text=f"m={m}", orient="left", font=ROWFONT, fontSize=17,
            fontWeight="normal", color="black", offset=2, anchor="middle"))
    return ch


cells = [
    make_panel("R", 1, m1_r_true, m1_r_pred, m1_r_err,
               [m1_r_naive[0]] * len(m1_r_true), [m1_r_naive[1]] * len(m1_r_true),
               [m1_r_naive[2]] * len(m1_r_true), [m1_r_naive[3]] * len(m1_r_true), legend=True),
    make_panel("P", 1, m1_p_true, m1_p_pred, m1_p_err,
               [m1_p_naive[0]] * len(m1_p_true), [m1_p_naive[1]] * len(m1_p_true),
               [m1_p_naive[2]] * len(m1_p_true), [m1_p_naive[3]] * len(m1_p_true)),
    make_panel("R", 2, m2_r_true, m2_r_pred, m2_r_err, m2_r_n1lo, m2_r_n1hi, m2_r_n2lo, m2_r_n2hi),
    make_panel("P", 2, m2_p_true, m2_p_pred, m2_p_err, m2_p_n1lo, m2_p_n1hi, m2_p_n2lo, m2_p_n2hi),
    make_panel("R", 3, m3_r_true, m3_r_pred, m3_r_err, m3_r_n1lo, m3_r_n1hi, m3_r_n2lo, m3_r_n2hi),
    make_panel("P", 3, m3_p_true, m3_p_pred, m3_p_err, m3_p_n1lo, m3_p_n1hi, m3_p_n2lo, m3_p_n2hi),
    make_panel("R", 4, m4_r_true, m4_r_pred, m4_r_err, m4_r_n1lo, m4_r_n1hi, m4_r_n2lo, m4_r_n2hi),
    make_panel("P", 4, m4_p_true, m4_p_pred, m4_p_err, m4_p_n1lo, m4_p_n1hi, m4_p_n2lo, m4_p_n2hi),
    make_panel("R", 5, m5_r_true, m5_r_pred, m5_r_err, m5_r_n1lo, m5_r_n1hi, m5_r_n2lo, m5_r_n2hi),
    make_panel("P", 5, m5_p_true, m5_p_pred, m5_p_err, m5_p_n1lo, m5_p_n1hi, m5_p_n2lo, m5_p_n2hi),
    make_panel("R", 6, m6_r_true, m6_r_pred, m6_r_err, m6_r_n1lo, m6_r_n1hi, m6_r_n2lo, m6_r_n2hi),
    make_panel("P", 6, m6_p_true, m6_p_pred, m6_p_err, m6_p_n1lo, m6_p_n1hi, m6_p_n2lo, m6_p_n2hi),
]

chart = alt.concat(*cells, columns=2, spacing={"row": 2, "column": 20},
                   align="each", bounds="full").properties(padding=0)
chart = chart.configure_view(stroke="black", strokeWidth=1.5).configure_axis(
    labelFont=SERIF, titleFont=SERIF, labelFontSize=9.5, titleFontSize=10.5,
    titleFontWeight="normal", labelColor="black", titleColor="black",
    tickColor="black", tickSize=3, tickWidth=0.8, domain=False, grid=False,
    labelPadding=1, titlePadding=2, titleLineHeight=12.5)

chart.save("out.html", embed_options={"renderer": "svg", "actions": False})
